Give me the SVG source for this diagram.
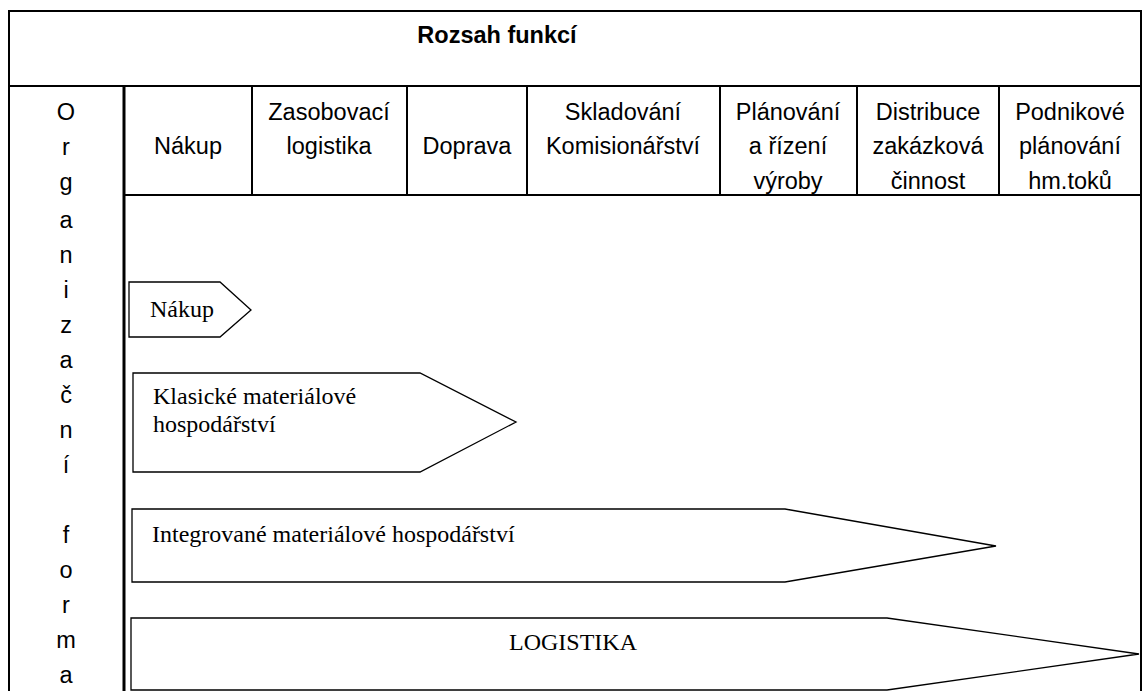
<svg xmlns="http://www.w3.org/2000/svg" width="1145" height="691" viewBox="0 0 1145 691">
<style>
.grid{stroke:#000;stroke-width:2;fill:none}
.sep{stroke:#000;stroke-width:3;fill:none}
.shape{stroke:#000;stroke-width:1.3;fill:#fff;stroke-linejoin:miter}
.hd{font-family:"Liberation Sans",Arial,sans-serif;font-size:23.5px;fill:#000;text-anchor:middle}
.title{font-family:"Liberation Sans",Arial,sans-serif;font-size:23.5px;font-weight:bold;fill:#000;text-anchor:middle}
.tm{font-family:"Liberation Serif","Times New Roman",serif;font-size:24px;fill:#000}
</style>
<rect width="1145" height="691" fill="#fff"/>
<g id="table">
<path class="grid" d="M9,691 V11 H1141 V691 M9,86 H1141 M124,195 H1141 M252,86 V195 M407,86 V195 M527,86 V195 M720,86 V195 M857,86 V195 M999,86 V195"/>
<path class="sep" d="M124,86 V691"/>
</g>
<g id="title"><text class="title" x="497" y="43">Rozsah funkcí</text></g>
<g id="org-forma" class="hd">
<text x="66" y="120">O</text>
<text x="66" y="155">r</text>
<text x="66" y="190">g</text>
<text x="66" y="228">a</text>
<text x="66" y="263">n</text>
<text x="66" y="298">i</text>
<text x="66" y="333">z</text>
<text x="66" y="368">a</text>
<text x="66" y="403">č</text>
<text x="66" y="438">n</text>
<text x="66" y="473">í</text>
<text x="66" y="543">f</text>
<text x="66" y="578">o</text>
<text x="66" y="613">r</text>
<text x="66" y="648">m</text>
<text x="66" y="683">a</text>
</g>
<g id="col-nakup" class="hd"><text x="188" y="154">Nákup</text></g>
<g id="col-zasobovaci" class="hd"><text x="329" y="120">Zasobovací</text><text x="329" y="154">logistika</text></g>
<g id="col-doprava" class="hd"><text x="467" y="154">Doprava</text></g>
<g id="col-skladovani" class="hd"><text x="623" y="120">Skladování</text><text x="623" y="154">Komisionářství</text></g>
<g id="col-planovani" class="hd"><text x="788" y="120">Plánování</text><text x="788" y="154">a řízení</text><text x="788" y="189">výroby</text></g>
<g id="col-distribuce" class="hd"><text x="928" y="120">Distribuce</text><text x="928" y="154">zakázková</text><text x="928" y="189">činnost</text></g>
<g id="col-podnikove" class="hd"><text x="1070" y="120">Podnikové</text><text x="1070" y="154">plánování</text><text x="1070" y="189">hm.toků</text></g>
<g id="connectors"></g>
<g id="arrow-nakup">
<polygon class="shape" points="129,282 220,282 251,310 220,337 129,337"/>
<text class="tm" x="150" y="317">Nákup</text>
</g>
<g id="arrow-klasicke">
<polygon class="shape" points="133,373 420,373 516,422 420,472 133,472"/>
<text class="tm" x="153" y="404">Klasické materiálové</text>
<text class="tm" x="153" y="432">hospodářství</text>
</g>
<g id="arrow-integrovane">
<polygon class="shape" points="132,509 785,509 996,546 785,582 132,582"/>
<text class="tm" x="152" y="542">Integrované materiálové hospodářství</text>
</g>
<g id="arrow-logistika">
<polygon class="shape" points="131,618 887,618 1139,654 887,690 131,690"/>
<text class="tm" x="573" y="650" text-anchor="middle">LOGISTIKA</text>
</g>
</svg>
